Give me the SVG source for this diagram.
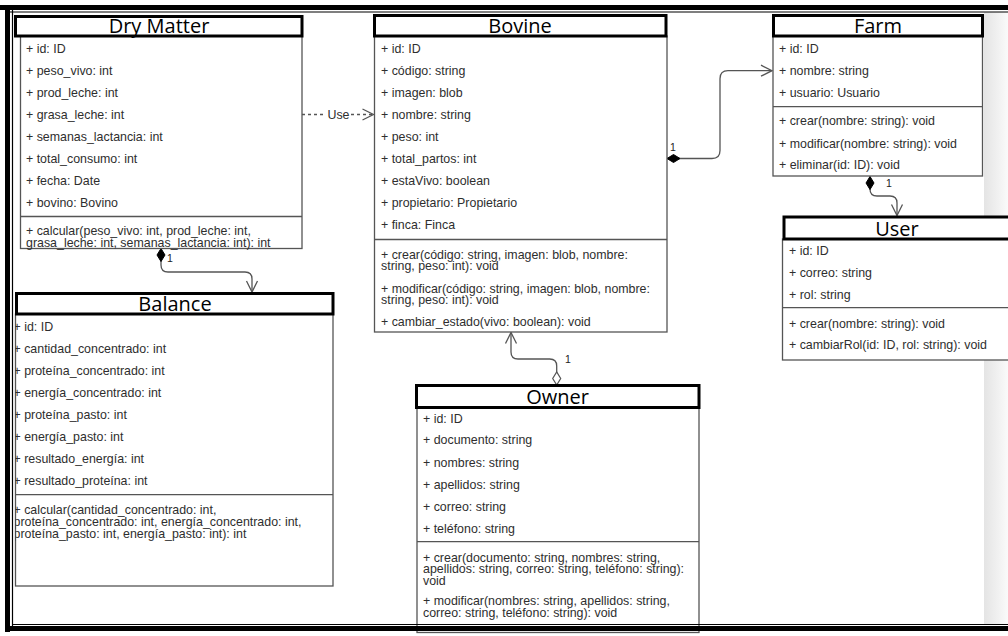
<svg xmlns="http://www.w3.org/2000/svg" width="1008" height="636" viewBox="0 0 1008 636">
<style>
.body{fill:#fff;stroke:#555;stroke-width:1.3}
.sep{stroke:#555;stroke-width:1.3}
.hdr{fill:#fff;stroke:#000;stroke-width:3}
.ht{font-family:"Open Sans","Liberation Sans",sans-serif;font-size:20px;fill:#000;text-anchor:middle}
.t{font-family:"Liberation Sans",Arial,sans-serif;font-size:12.4px;fill:#2e2e2e}
.lbl{font-family:"Liberation Sans",Arial,sans-serif;font-size:10.5px;fill:#222}
.con{fill:none;stroke:#555;stroke-width:1.3}
</style>
<defs>
<marker id="arrow" markerWidth="14" markerHeight="14" refX="12" refY="7" orient="auto" markerUnits="userSpaceOnUse"><path d="M1,1.5 L12,7 L1,12.5" fill="none" stroke="#555" stroke-width="1.3"/></marker>
<marker id="dfill" markerWidth="16" markerHeight="10" refX="0.5" refY="5" orient="auto" markerUnits="userSpaceOnUse"><path d="M0.5,5 L7,1 L13.5,5 L7,9 Z" fill="#000" stroke="#000" stroke-width="1"/></marker>
<marker id="dhollow" markerWidth="16" markerHeight="10" refX="0.5" refY="5" orient="auto" markerUnits="userSpaceOnUse"><path d="M0.5,5 L7,1 L13.5,5 L7,9 Z" fill="#fff" stroke="#555" stroke-width="1.2"/></marker>
<clipPath id="balclip"><rect x="15.5" y="280" width="330" height="320"/></clipPath>
<linearGradient id="shR" x1="0" y1="0" x2="1" y2="0"><stop offset="0" stop-color="#e4e4e4"/><stop offset="1" stop-color="#fafafa"/></linearGradient>
</defs>
<rect x="0" y="0" width="1008" height="636" fill="#fff"/>
<rect x="984" y="12" width="24" height="612" fill="url(#shR)"/>

<g id="connectors">
<path class="con" d="M 667 158.5 H 712 Q 720 158.5 720 150.5 V 78.7 Q 720 70.7 728 70.7 H 772" marker-start="url(#dfill)" marker-end="url(#arrow)"/>
<text class="lbl" x="670" y="151">1</text>
<path class="con" d="M 870 176.5 V 189 Q 870 196 877 196 H 890 Q 897 196 897 203 V 215.5" marker-start="url(#dfill)" marker-end="url(#arrow)"/>
<text class="lbl" x="886" y="187">1</text>
<path class="con" d="M 161 248.5 V 265 Q 161 272 168 272 H 245 Q 252 272 252 279 V 292" marker-start="url(#dfill)" marker-end="url(#arrow)"/>
<text class="lbl" x="167" y="262">1</text>
<path class="con" d="M 556.7 385 V 366 Q 556.7 359 549.7 359 H 518 Q 511 359 511 352 V 332.5" marker-start="url(#dhollow)" marker-end="url(#arrow)"/>
<text class="lbl" x="565" y="363">1</text>
<path class="con" d="M 302 114.5 H 326" stroke-dasharray="3 3"/>
<path class="con" d="M 351 114.5 H 373.5" stroke-dasharray="3 3" marker-end="url(#arrow)"/>
<text class="t" x="338.5" y="118.5" text-anchor="middle">Use</text>
</g>

<g id="drymatter">
<rect class="body" x="20.5" y="36" width="281.5" height="212.5"/>
<line class="sep" x1="20.5" y1="216.5" x2="302" y2="216.5"/>
<rect class="hdr" x="15.5" y="16.5" width="286.5" height="19.5"/>
<text class="ht" x="159" y="33">Dry Matter</text>
<text class="t" x="26" y="52.5">+ id: ID</text>
<text class="t" x="26" y="74.7">+ peso_vivo: int</text>
<text class="t" x="26" y="96.7">+ prod_leche: int</text>
<text class="t" x="26" y="118.7">+ grasa_leche: int</text>
<text class="t" x="26" y="140.7">+ semanas_lactancia: int</text>
<text class="t" x="26" y="162.9">+ total_consumo: int</text>
<text class="t" x="26" y="184.9">+ fecha: Date</text>
<text class="t" x="26" y="206.9">+ bovino: Bovino</text>
<text class="t" x="26" y="235.4">+ calcular(peso_vivo: int, prod_leche: int,</text>
<text class="t" x="26" y="247.2">grasa_leche: int, semanas_lactancia: int): int</text>
</g>

<g id="bovine">
<rect class="body" x="374.5" y="36" width="292.5" height="296"/>
<line class="sep" x1="374.5" y1="239.5" x2="667" y2="239.5"/>
<rect class="hdr" x="374.5" y="15.5" width="291.5" height="20.5"/>
<text class="ht" x="520" y="33">Bovine</text>
<text class="t" x="381" y="52.7">+ id: ID</text>
<text class="t" x="381" y="74.9">+ código: string</text>
<text class="t" x="381" y="96.9">+ imagen: blob</text>
<text class="t" x="381" y="118.9">+ nombre: string</text>
<text class="t" x="381" y="140.9">+ peso: int</text>
<text class="t" x="381" y="163.1">+ total_partos: int</text>
<text class="t" x="381" y="185.4">+ estaVivo: boolean</text>
<text class="t" x="381" y="207.4">+ propietario: Propietario</text>
<text class="t" x="381" y="228.7">+ finca: Finca</text>
<text class="t" x="381" y="258.7">+ crear(código: string, imagen: blob, nombre:</text>
<text class="t" x="381" y="270.1">string, peso: int): void</text>
<text class="t" x="381" y="292.7">+ modificar(código: string, imagen: blob, nombre:</text>
<text class="t" x="381" y="303.9">string, peso: int): void</text>
<text class="t" x="381" y="326.1">+ cambiar_estado(vivo: boolean): void</text>
</g>

<g id="farm">
<rect class="body" x="773" y="36" width="209.5" height="140"/>
<line class="sep" x1="773" y1="106.7" x2="982.5" y2="106.7"/>
<rect class="hdr" x="773.5" y="15.5" width="209" height="20.5"/>
<text class="ht" x="878" y="33">Farm</text>
<text class="t" x="779" y="52.7">+ id: ID</text>
<text class="t" x="779" y="75.1">+ nombre: string</text>
<text class="t" x="779" y="97.1">+ usuario: Usuario</text>
<text class="t" x="779" y="125.4">+ crear(nombre: string): void</text>
<text class="t" x="779" y="147.7">+ modificar(nombre: string): void</text>
<text class="t" x="779" y="169.4">+ eliminar(id: ID): void</text>
</g>

<g id="user">
<rect class="body" x="782.5" y="239" width="240" height="121"/>
<line class="sep" x1="782.5" y1="307.7" x2="1010" y2="307.7"/>
<rect class="hdr" x="784" y="217" width="240" height="22"/>
<text class="ht" x="897" y="236">User</text>
<text class="t" x="789" y="255.4">+ id: ID</text>
<text class="t" x="789" y="276.7">+ correo: string</text>
<text class="t" x="789" y="298.7">+ rol: string</text>
<text class="t" x="789" y="327.7">+ crear(nombre: string): void</text>
<text class="t" x="789" y="349.4">+ cambiarRol(id: ID, rol: string): void</text>
</g>

<g id="balance">
<rect class="body" x="15.5" y="314" width="317.5" height="272"/>
<line class="sep" x1="15.5" y1="494.7" x2="333" y2="494.7"/>
<rect class="hdr" x="16.5" y="293.5" width="316.5" height="20.5"/>
<text class="ht" x="175" y="311">Balance</text>
<g clip-path="url(#balclip)">
<text class="t" x="13.5" y="331.1">+ id: ID</text>
<text class="t" x="13.5" y="352.7">+ cantidad_concentrado: int</text>
<text class="t" x="13.5" y="375.1">+ proteína_concentrado: int</text>
<text class="t" x="13.5" y="397.1">+ energía_concentrado: int</text>
<text class="t" x="13.5" y="418.7">+ proteína_pasto: int</text>
<text class="t" x="13.5" y="440.7">+ energía_pasto: int</text>
<text class="t" x="13.5" y="463.4">+ resultado_energía: int</text>
<text class="t" x="13.5" y="485.4">+ resultado_proteína: int</text>
<text class="t" x="13.5" y="514.4">+ calcular(cantidad_concentrado: int,</text>
<text class="t" x="13.5" y="526.1">proteína_concentrado: int, energía_concentrado: int,</text>
<text class="t" x="13.5" y="537.7">proteína_pasto: int, energía_pasto: int): int</text>
</g>
</g>

<g id="owner">
<rect class="body" x="417" y="407.5" width="282" height="225"/>
<line class="sep" x1="417" y1="541.7" x2="699" y2="541.7"/>
<rect class="hdr" x="416.5" y="385.5" width="282.5" height="22"/>
<text class="ht" x="557.5" y="404">Owner</text>
<text class="t" x="423" y="422.7">+ id: ID</text>
<text class="t" x="423" y="444.4">+ documento: string</text>
<text class="t" x="423" y="466.7">+ nombres: string</text>
<text class="t" x="423" y="488.9">+ apellidos: string</text>
<text class="t" x="423" y="511.1">+ correo: string</text>
<text class="t" x="423" y="532.7">+ teléfono: string</text>
<text class="t" x="423" y="561.7">+ crear(documento: string, nombres: string,</text>
<text class="t" x="423" y="573.4">apellidos: string, correo: string, teléfono: string):</text>
<text class="t" x="423" y="585.4">void</text>
<text class="t" x="423" y="605.4">+ modificar(nombres: string, apellidos: string,</text>
<text class="t" x="423" y="617.1">correo: string, teléfono: string): void</text>
</g>

<g id="frame" fill="none" stroke="#000">
<line x1="0" y1="7.5" x2="1008" y2="7.5" stroke-width="5"/>
<line x1="10" y1="12" x2="1008" y2="12" stroke-width="1.2"/>
<line x1="7.5" y1="5" x2="7.5" y2="632" stroke-width="5"/>
<line x1="12.5" y1="10" x2="12.5" y2="626" stroke-width="1.2"/>
<line x1="5" y1="628.5" x2="1008" y2="628.5" stroke-width="5"/>
<line x1="12" y1="624.5" x2="1008" y2="624.5" stroke-width="1.2"/>
</g>
</svg>
